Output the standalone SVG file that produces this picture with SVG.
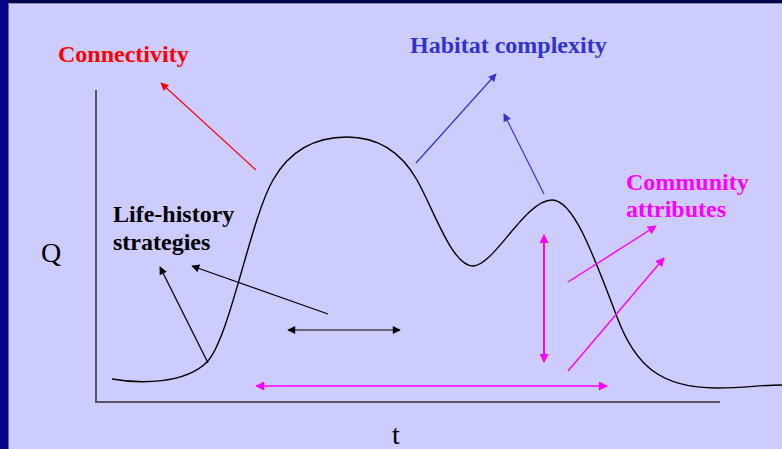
<svg xmlns="http://www.w3.org/2000/svg" width="782" height="449" viewBox="0 0 782 449">
<defs>
<style>
.lbl{font-family:"Liberation Serif","Times New Roman",serif;font-weight:bold;font-size:24px}
.axl{font-family:"Liberation Serif","Times New Roman",serif;font-size:28px;fill:#000}
.ln{fill:none}
</style>
<marker id="aR" viewBox="0 0 10 10" refX="9" refY="5" markerWidth="9" markerHeight="8" markerUnits="userSpaceOnUse" orient="auto-start-reverse"><path d="M0,0L10,5L0,10z" fill="#ff0000"/></marker>
<marker id="aB" viewBox="0 0 10 10" refX="9" refY="5" markerWidth="9" markerHeight="8" markerUnits="userSpaceOnUse" orient="auto-start-reverse"><path d="M0,0L10,5L0,10z" fill="#3333cc"/></marker>
<marker id="aK" viewBox="0 0 10 10" refX="9" refY="5" markerWidth="10" markerHeight="8" markerUnits="userSpaceOnUse" orient="auto-start-reverse"><path d="M0,0L10,5L0,10z" fill="#000"/></marker>
<marker id="aM" viewBox="0 0 10 10" refX="9" refY="5" markerWidth="10" markerHeight="9" markerUnits="userSpaceOnUse" orient="auto-start-reverse"><path d="M0,0L10,5L0,10z" fill="#ff00ff"/></marker>
</defs>
<rect x="0" y="0" width="782" height="449" fill="#ccccff"/>
<rect x="0" y="0" width="782" height="3" fill="#02024e"/>
<rect x="0" y="0" width="8" height="449" fill="#06068a"/>
<line x1="8.5" y1="3" x2="8.5" y2="449" stroke="#6a6a9a" stroke-width="1"/>
<line x1="8" y1="3.5" x2="782" y2="3.5" stroke="#8a8ab0" stroke-width="1"/>

<g id="axes">
<line x1="96" y1="90" x2="96" y2="403" stroke="#555566" stroke-width="2"/>
<line x1="95" y1="402" x2="720" y2="402" stroke="#555566" stroke-width="2"/>
<text class="axl" x="41" y="262">Q</text>
<text class="axl" x="392" y="444">t</text>
</g>

<g id="curve">
<path class="ln" stroke="#000" stroke-width="1.4" d="M112,379 C140,384 185,384 207,362 C230,338 250,220 273,180 C290,150 315,137 347,137 C375,137 400,150 417,180 C434,210 452,266 473,266 C494,266 525,200 552,200 C572,200 590,245 617,317 C635,365 660,388 717,388 C745,388 760,385 782,385"/>
</g>

<g id="connectivity">
<text class="lbl" x="58" y="62" fill="#ff0000">Connectivity</text>
</g>
<g id="habitat-complexity">
<text class="lbl" x="410" y="53" fill="#3333cc">Habitat complexity</text>
</g>
<g id="community-attributes">
<text class="lbl" x="626" y="190" fill="#ff00ff">Community</text>
<text class="lbl" x="626" y="217" fill="#ff00ff">attributes</text>
</g>
<g id="life-history">
<text class="lbl" x="113" y="222" fill="#000">Life-history</text>
<text class="lbl" x="113" y="250" fill="#000">strategies</text>
</g>

<g id="connectors">
<line x1="256" y1="170" x2="161" y2="83" stroke="#ff0000" stroke-width="1.2" marker-end="url(#aR)"/>
<line x1="416" y1="163" x2="496" y2="74" stroke="#3333cc" stroke-width="1.2" marker-end="url(#aB)"/>
<line x1="544" y1="194" x2="504" y2="114" stroke="#3333cc" stroke-width="1.2" marker-end="url(#aB)"/>
<line x1="208" y1="363" x2="160" y2="267" stroke="#000" stroke-width="1.2" marker-end="url(#aK)"/>
<line x1="328" y1="314" x2="192" y2="266" stroke="#000" stroke-width="1.2" marker-end="url(#aK)"/>
<line x1="288" y1="330" x2="400" y2="330" stroke="#000" stroke-width="1.2" marker-start="url(#aK)" marker-end="url(#aK)"/>
<line x1="256" y1="386" x2="607" y2="386" stroke="#ff00ff" stroke-width="1.6" marker-start="url(#aM)" marker-end="url(#aM)"/>
<line x1="544" y1="235" x2="544" y2="362" stroke="#ff00ff" stroke-width="2" marker-start="url(#aM)" marker-end="url(#aM)"/>
<line x1="568" y1="282" x2="656" y2="226" stroke="#ff00ff" stroke-width="1.4" marker-end="url(#aM)"/>
<line x1="568" y1="371" x2="664" y2="258" stroke="#ff00ff" stroke-width="1.4" marker-end="url(#aM)"/>
</g>
</svg>
